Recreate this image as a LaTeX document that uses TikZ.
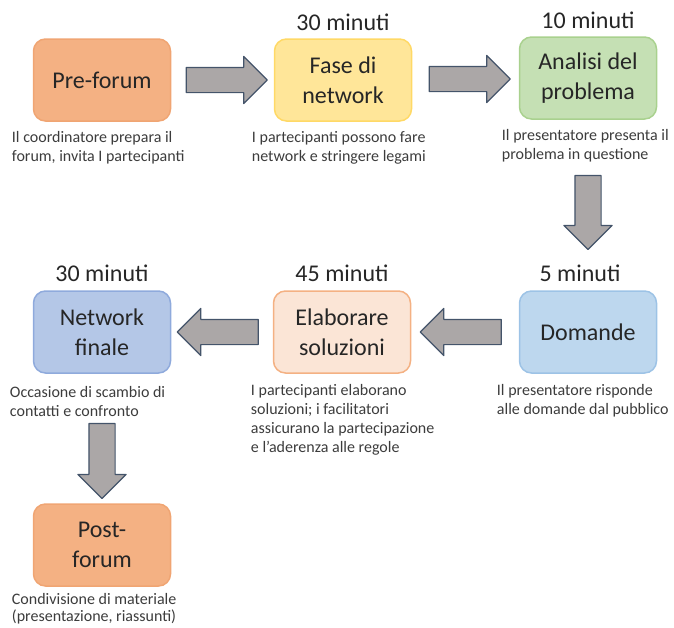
\documentclass[tikz,border=0pt]{standalone}
\usepackage{fontspec}
\setmainfont{Carlito}
\usetikzlibrary{positioning,shapes.arrows,calc}

\definecolor{arrowgray}{RGB}{171,167,167}
\definecolor{arrowline}{RGB}{68,84,106}
\definecolor{boxtext}{RGB}{38,38,38}
\definecolor{desctext}{RGB}{60,60,60}
\definecolor{orangebox}{RGB}{244,177,131}
\definecolor{orangeline}{RGB}{240,165,115}
\definecolor{yellowbox}{RGB}{255,230,153}
\definecolor{yellowline}{RGB}{255,217,102}
\definecolor{greenbox}{RGB}{197,224,180}
\definecolor{greenline}{RGB}{169,209,142}
\definecolor{bluebox}{RGB}{180,199,231}
\definecolor{blueline}{RGB}{143,170,220}
\definecolor{peachbox}{RGB}{251,229,214}
\definecolor{peachline}{RGB}{244,177,131}
\definecolor{skybox}{RGB}{189,215,238}
\definecolor{skyline}{RGB}{157,195,230}

\begin{document}
\begin{tikzpicture}[x=1pt,y=-1pt,
        box/.style={draw,rounded corners=12pt,line width=1.5pt,minimum width=137pt,minimum height=82pt,
            align=center,inner sep=0pt,text=boxtext,font=\fontsize{24}{30}\selectfont},
        mins/.style={inner sep=0pt,text=boxtext,font=\fontsize{24}{30}\selectfont},
        desc/.style={anchor=north west,align=left,inner sep=0pt,text=desctext,font=\fontsize{16}{19}\selectfont},
        flowarrow/.style={single arrow,draw=arrowline,fill=arrowgray,line width=1.2pt,line join=round,
            inner xsep=0pt,inner ysep=12pt,single arrow head extend=11pt,minimum height=81pt},
        downarrow/.style={flowarrow,inner xsep=12.5pt,inner ysep=0pt,shape border rotate=270,minimum height=74pt}]
    \useasboundingbox (0,0) rectangle (674,627);

    % first row
    \node[box,fill=orangebox,draw=orangeline] (pre) at (102,80) {Pre-forum};
    \node[box,fill=yellowbox,draw=yellowline] (fase) at (343,80) {Fase di\\network};
    \node[box,fill=greenbox,draw=greenline] (ana) at (588,78) {Analisi del\\problema};

    % second row
    \node[box,fill=bluebox,draw=blueline] (netf) at (102,332) {Network\\finale};
    \node[box,fill=peachbox,draw=peachline] (elab) at (342,332) {Elaborare\\soluzioni};
    \node[box,fill=skybox,draw=skyline] (dom) at (588,332) {Domande};

    \node[box,fill=orangebox,draw=orangeline] (post) at (102,545) {Post-\\forum};

    % durations
    \node[mins,above=7pt of fase] (fasemin) {30 minuti};
    \node[mins,above=7pt of ana] (anamin) {10 minuti};
    \node[mins,above=8pt of netf] (netfmin) {30 minuti};
    \node[mins,above=8pt of elab] (elabmin) {45 minuti};
    \node[mins,above=8pt of dom,xshift=-8pt] (dommin) {5 minuti};

    % descriptions
    \node[desc] (predesc) at ([xshift=-21pt,yshift=-9pt]pre.south west) {Il coordinatore prepara il\\forum, invita I partecipanti};
    \node[desc] (fasedesc) at ([xshift=-22pt,yshift=-9pt]fase.south west) {I partecipanti possono fare\\network e stringere legami};
    \node[desc] (anadesc) at ([xshift=-17pt,yshift=-9pt]ana.south west) {Il presentatore presenta il\\problema in questione};
    \node[desc] (netfdesc) at ([xshift=-23pt,yshift=-12pt]netf.south west) {Occasione di scambio di\\contatti e confronto};
    \node[desc] (elabdesc) at ([xshift=-22pt,yshift=-10pt]elab.south west) {I partecipanti elaborano\\soluzioni; i facilitatori\\assicurano la partecipazione\\e l'aderenza alle regole};
    \node[desc] (domdesc) at ([xshift=-22pt,yshift=-10pt]dom.south west) {Il presentatore risponde\\alle domande dal pubblico};
    \node[desc,font=\fontsize{16}{17}\selectfont] (postdesc) at ([xshift=-21pt,yshift=-6pt]post.south west) {Condivisione di materiale\\(presentazione, riassunti)};

    % block arrows
    \node[flowarrow] (a1) at ([xshift=-2pt]$(pre.east)!0.5!(fase.west)$) {};
    \node[flowarrow] (a2) at ([xshift=-2pt]$(fase.east)!0.5!(ana.west)$) {};
    \node[downarrow] (a3) at ([yshift=-1pt]$(ana.south)!0.5!(dom.north)$) {};
    \node[flowarrow,shape border rotate=180] (a4) at ([xshift=2pt]$(dom.west)!0.5!(elab.east)$) {};
    \node[flowarrow,shape border rotate=180] (a5) at ([xshift=2pt]$(elab.west)!0.5!(netf.east)$) {};
    \node[downarrow,minimum height=75pt] (a6) at ([yshift=-16pt]$(netf.south)!0.5!(post.north)$) {};
\end{tikzpicture}
\end{document}
